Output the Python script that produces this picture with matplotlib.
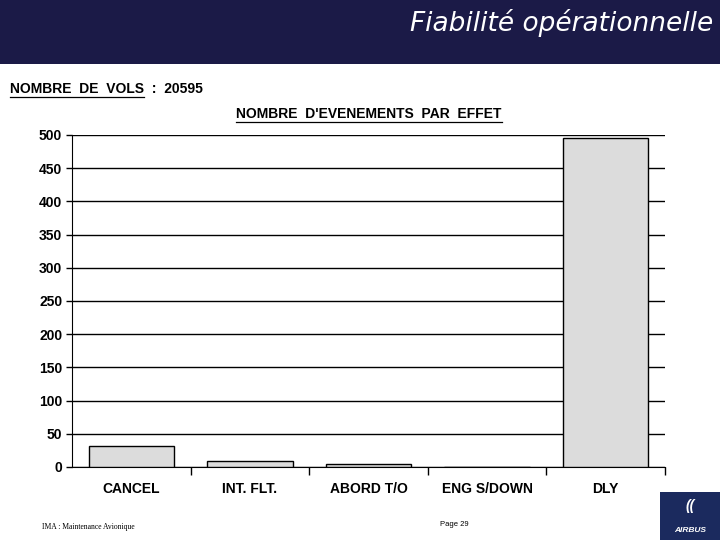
"""
    bar chart of the number of events per effect (slide Fiabilite operationnelle)
"""

import numpy as np
import matplotlib
matplotlib.use("Agg")
from matplotlib import pyplot as plt
from matplotlib.lines import Line2D
from matplotlib.patches import Rectangle

categories = ["CANCEL", "INT. FLT.", "ABORD T/O", "ENG S/DOWN", "DLY"]
events = [32, 9, 5, 0, 496]
yticks = [0, 50, 100, 150, 200, 250, 300, 350, 400, 450, 500]

nb_vols = 20595

plt.rcParams['font.family'] = ['Liberation Sans', 'DejaVu Sans']

fig = plt.figure(figsize=(7.2, 5.4), dpi=100)

# header band
fig.patches.append(Rectangle((0, 1 - 64/540), 1, 64/540, transform=fig.transFigure,
                             facecolor="#1b1a47", edgecolor="none", zorder=0))
fig.text(0.99, 1 - 23/540, "Fiabilité opérationnelle", ha="right", va="center",
         color="white", fontsize=19, style="italic", family="DejaVu Sans")

t1 = fig.text(10/720, 1 - 89/540, "NOMBRE  DE  VOLS", ha="left", va="center",
              fontsize=10, fontweight="bold")
t2 = fig.text(0.5125, 1 - 114/540, "NOMBRE  D'EVENEMENTS  PAR  EFFET", ha="center",
              va="center", fontsize=10, fontweight="bold")

ax = fig.add_axes([72/720, 1 - 467/540, 593/720, 332/540])
x = np.arange(len(categories))
ax.bar(x, events, width=0.72, color="#dcdcdc", edgecolor="black", linewidth=1, zorder=3)

ax.set_xlim(-0.5, len(categories) - 0.5)
ax.set_ylim(0, 500)
ax.set_yticks(yticks)
ax.set_yticklabels([str(v) for v in yticks], fontsize=10, fontweight="bold")
ax.yaxis.grid(True, color="black", linewidth=1, zorder=0)
ax.set_axisbelow(True)

ax.set_xticks(x)
ax.set_xticklabels(categories, fontsize=10, fontweight="bold")
ax.tick_params(axis="x", which="major", length=0, pad=11)
ax.set_xticks(np.arange(0.5, len(categories)), minor=True)
ax.tick_params(axis="x", which="minor", length=6, width=1, direction="out")
ax.tick_params(axis="y", length=4, width=1, pad=3)

for side in ["top", "right"]:
    ax.spines[side].set_visible(False)
ax.spines["left"].set_bounds(0, 500)

# underlines under the headings
fig.canvas.draw()
r = fig.canvas.get_renderer()
for t in (t1, t2):
    bb = t.get_window_extent(r).transformed(fig.transFigure.inverted())
    fig.add_artist(Line2D([bb.x0, bb.x1], [bb.y0 - 0.002, bb.y0 - 0.002], color="black",
                          linewidth=0.9, transform=fig.transFigure))
bb = t1.get_window_extent(r).transformed(fig.transFigure.inverted())
fig.text(bb.x1, 1 - 89/540, "  :  %d" % nb_vols, ha="left", va="center",
         fontsize=10, fontweight="bold")

# footer
fig.text(42/720, 1 - 527/540, "IMA : Maintenance Avionique", ha="left", va="center",
         fontsize=5.5, family="Liberation Serif")
fig.text(440/720, 1 - 525/540, "Page 29", ha="left", va="center", fontsize=5.5)
fig.patches.append(Rectangle((660/720, 0), 60/720, 48/540, transform=fig.transFigure,
                             facecolor="#1b2a5e", edgecolor="none"))
fig.text(690/720, 1 - 506/540, "((", ha="center", va="center", color="white",
         fontsize=10, style="italic", fontweight="bold")
fig.text(690/720, 1 - 530/540, "AIRBUS", ha="center", va="center", color="white",
         fontsize=6, style="italic", fontweight="bold")

fig.savefig("out.png", dpi=100)
